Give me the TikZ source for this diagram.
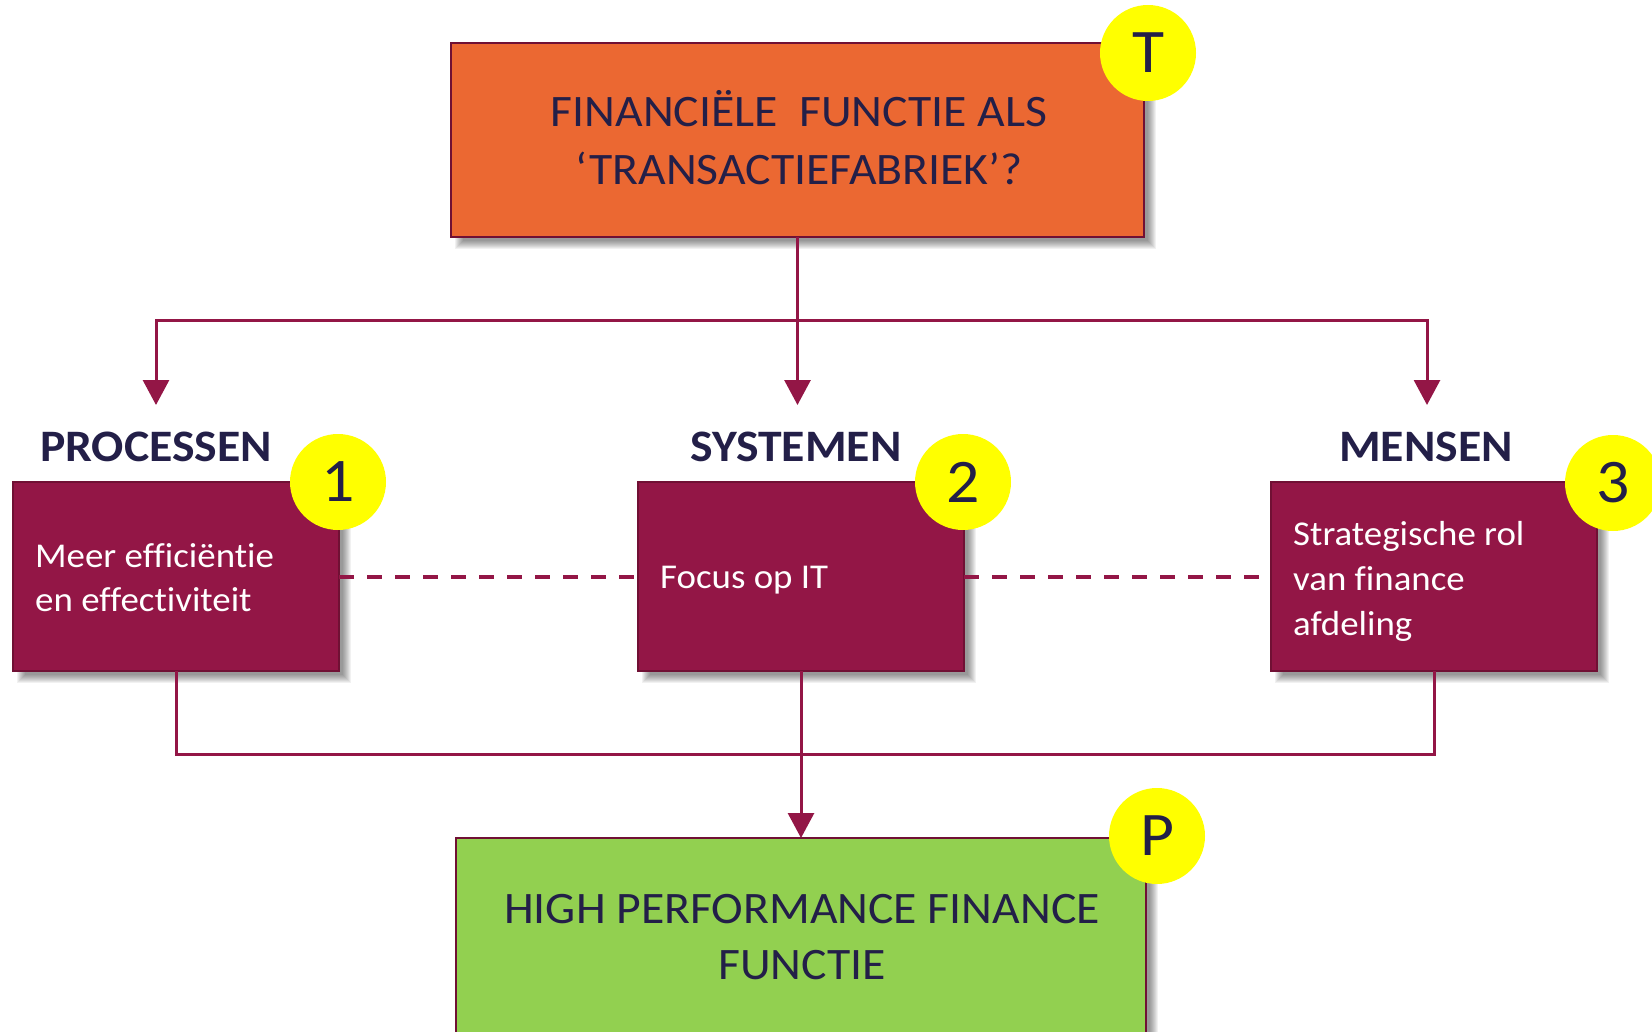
\documentclass[tikz,border=0pt]{standalone}
\usepackage{fontspec}
\setmainfont{Carlito}[FakeStretch=1.06, Ligatures={NoCommon}]
\usetikzlibrary{arrows.meta,backgrounds}
\definecolor{maroon}{RGB}{147,22,70}
\definecolor{boxedge}{RGB}{112,16,52}
\definecolor{orangebox}{RGB}{235,104,50}
\definecolor{greenbox}{RGB}{146,208,80}
\definecolor{navy}{RGB}{35,31,72}
\definecolor{badgeyellow}{RGB}{255,255,0}
\begin{document}
\begin{tikzpicture}[x=1pt,y=-1pt,
  box/.style={draw=boxedge, line width=2.5pt, inner sep=0pt, outer sep=0pt},
  badge/.style={circle, fill=badgeyellow, minimum size=96pt, inner sep=0pt, text=navy,
    font=\fontsize{62}{62}\selectfont},
  heading/.style={anchor=base, inner sep=0pt, text=navy, font=\bfseries\fontsize{45}{54}\selectfont},
  bigtext/.style={anchor=base, inner sep=0pt, text=navy},
  boxtext/.style={anchor=base west, inner sep=0pt, text=white, font=\fontsize{34.8}{44}\selectfont},
  conn/.style={draw=maroon, line width=3pt},
  arr/.style={conn, -{Triangle[width=26pt,length=25pt]}},
  dashline/.style={draw=maroon, line width=4pt, dash pattern=on 15pt off 13pt}
]
\useasboundingbox (0,0) rectangle (1652,1032);

% boxes
\node[box, fill=orangebox, minimum width=693pt, minimum height=194pt] (top) at (797.5,140) {};
\node[box, fill=maroon, minimum width=326pt, minimum height=189pt] (b1) at (176,576.5) {};
\node[box, fill=maroon, minimum width=326pt, minimum height=189pt] (b2) at (801,576.5) {};
\node[box, fill=maroon, minimum width=326pt, minimum height=189pt] (b3) at (1434,576.5) {};
\node[box, fill=greenbox, minimum width=690pt, minimum height=207pt] (pb) at (801,941.5) {};

% shadows
\begin{scope}[on background layer]
\foreach \n in {top,b1,b2,b3,pb}{
  \foreach \e in {-4,-3,...,4}{
    \fill[black, fill opacity=0.055]
      ([shift={(8-\e,8-\e)}]\n.north west) rectangle ([shift={(8+\e,8+\e)}]\n.south east);
  }
}
\end{scope}

% texts in boxes
\node[bigtext, font=\fontsize{45}{58}\selectfont] (ttop) at (799,127)
  {\parbox[t]{680pt}{\centering FINANCIËLE\ \ FUNCTIE ALS\\‘TRANSACTIEFABRIEK’?}};
\node[bigtext, font=\fontsize{45}{56}\selectfont] (tpb) at (802,923)
  {\parbox[t]{680pt}{\centering HIGH PERFORMANCE FINANCE\\FUNCTIE}};
\node[boxtext] (tb1) at (35,567) {\parbox[t]{300pt}{\raggedright Meer efficiëntie\\en effectiviteit}};
\node[boxtext] (tb2) at (660,588) {Focus op IT};
\node[boxtext, font=\fontsize{34.8}{45}\selectfont] (tb3) at (1293,545)
  {\parbox[t]{300pt}{\raggedright Strategische rol\\van finance\\afdeling}};

% headings
\node[heading] (h1) at (156,461) {PROCESSEN};
\node[heading] (h2) at (796,461) {SYSTEMEN};
\node[heading] (h3) at (1426,461) {MENSEN};

% connectors
\coordinate (j) at (top.south |- 0,321);
\coordinate (in1) at (156,405);
\coordinate (in2) at (j |- 0,405);
\coordinate (in3) at (1427,405);
\draw[conn] (top.south) -- (j);
\draw[arr] (j) -| (in1);
\draw[arr] (j) -| (in3);
\draw[arr] (j) -- (in2);

\draw[dashline] (b1.east) -- (b2.west);
\draw[dashline] (b2.east) -- (b3.west);

\draw[conn] (b1.south) -- ++(0,83) -| (b3.south);
\draw[arr] (b2.south) -- (pb.north);

% badges
\node[badge] (cT) at (1148,53) {T};
\node[badge] (c1) at (338,482) {1};
\node[badge] (c2) at (963,482) {2};
\node[badge] (c3) at (1613,483) {3};
\node[badge] (cP) at (1157,836) {P};
\end{tikzpicture}
\end{document}
